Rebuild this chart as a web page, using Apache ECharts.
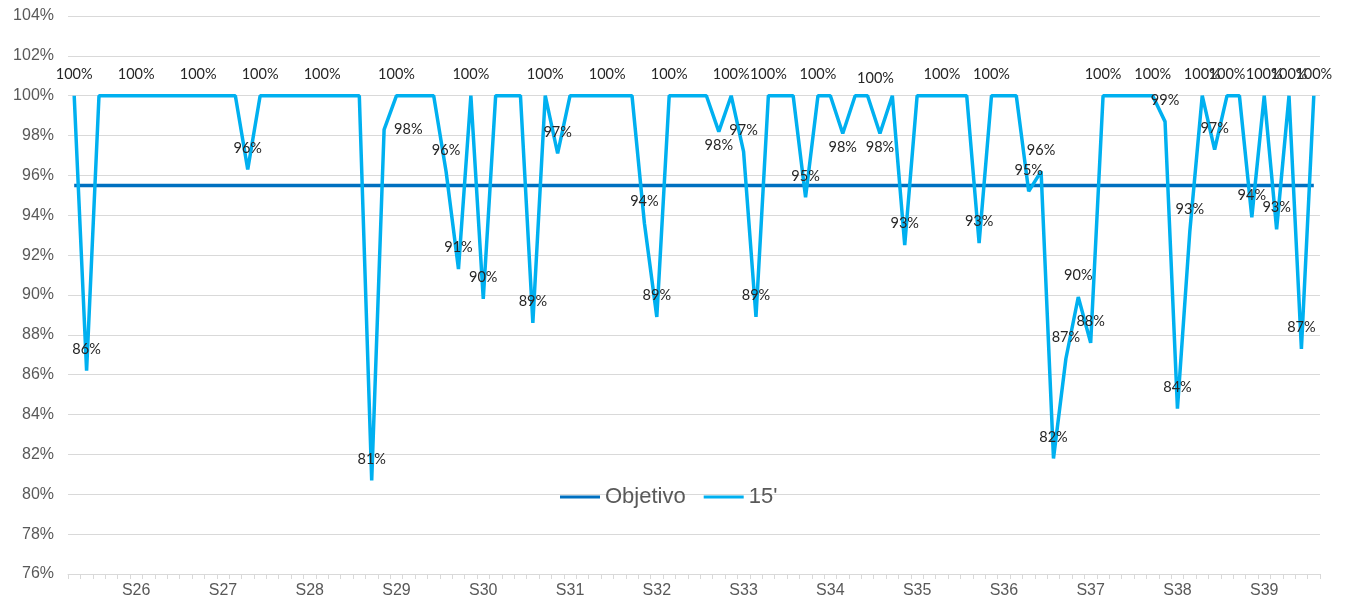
<!DOCTYPE html>
<html>
<head>
<meta charset="utf-8">
<script src="https://cdn.jsdelivr.net/npm/echarts@6/dist/echarts.min.js"></script>
<style>
html,body{margin:0;padding:0;background:#fff;}
#chart{width:1353px;height:601px;}
</style>
</head>
<body>
<div id="chart"></div>
<script>
// Weeks on the x axis and how many daily points fall in each
const weeks = ['S25','S26','S27','S28','S29','S30','S31','S32','S33','S34','S35','S36','S37','S38','S39','S40'];
const daysInWeek = [2,7,7,7,7,7,7,7,7,7,7,7,7,7,7,1];

// Daily % of service within 15' (one value per day)
const onTime15 = [
  100, 86.2,
  100,100,100,100,100,100,100,
  100,100,100,100,100,96.3,100,
  100,100,100,100,100,100,100,
  100,80.7,98.3,100,100,100,100,
  96.2,91.3,100,89.8,100,100,100,
  88.6,100,97.1,100,100,100,100,
  100,100,93.6,88.9,100,100,100,
  100,98.2,100,97.2,88.9,100,100,
  100,94.9,100,100,98.1,100,100,
  98.1,100,92.5,100,100,100,100,
  100,92.6,100,100,100,95.2,96.2,
  81.8,86.8,89.9,87.6,100,100,100,
  100,100,98.7,84.3,93.2,100,97.3,
  100,100,93.9,100,93.3,100,87.3,
  100
];
const objetivo = 95.5;

// Which points carry a data label
const labelTop = [0,1,5,10,14,15,20,24,26,30,31,32,33,37,38,39,43,46,47,48,53,54,55,56,59,60,64,67,70,73,74,77,78,79,80,81,82,83,87,88,89,90,91,92,93,95,96,97,98,99,100];
const labelBottom = [52,62,65];
const labelRight = [25];

const categories = [];
const labelIdx = {};
weeks.forEach((w, wi) => {
  const n = daysInWeek[wi];
  for (let d = 0; d < n; d++) {
    if (n === 7 && d === 3) labelIdx[categories.length] = true;
    categories.push(w + '-' + (d + 1));
  }
});

const pointData = onTime15.map((v, i) => {
  const item = { value: v };
  if (i === 64) {
    item.label = { show: true, position: [8, -17], align: 'center', verticalAlign: 'middle' };
  } else if (labelTop.includes(i)) {
    item.label = { show: true, position: 'top', distance: 14 };
  } else if (labelBottom.includes(i)) {
    item.label = { show: true, position: 'bottom', distance: 6 };
  } else if (labelRight.includes(i)) {
    item.label = { show: true, position: 'right', distance: 10 };
  }
  return item;
});

const chart = echarts.init(document.getElementById('chart'));
chart.setOption({
  animation: false,
  backgroundColor: '#ffffff',
  grid: { left: 68, right: 33, top: 16, bottom: 27, outerBoundsMode: 'none' },
  legend: {
    left: 555, top: 481,
    itemWidth: 40, itemHeight: 3, itemGap: 18,
    icon: 'rect',
    textStyle: { fontFamily: 'Liberation Sans', fontSize: 22, color: '#595959' },
    data: ['Objetivo', "15'"]
  },
  xAxis: {
    type: 'category',
    data: categories,
    boundaryGap: true,
    axisLine: { show: true, lineStyle: { color: '#D9D9D9', width: 1 } },
    axisTick: { show: true, interval: 0, length: 5, lineStyle: { color: '#D9D9D9' } },
    axisLabel: {
      interval: (index) => !!labelIdx[index],
      formatter: (v) => v.split('-')[0],
      fontFamily: 'Liberation Sans', fontSize: 16, color: '#595959', margin: 9
    },
    splitLine: { show: false }
  },
  yAxis: {
    type: 'value',
    min: 76, max: 104, interval: 2,
    axisLine: { show: false },
    axisTick: { show: false },
    axisLabel: { formatter: '{value}%', fontFamily: 'Liberation Sans', fontSize: 16, color: '#595959', margin: 14 },
    splitLine: { lineStyle: { color: '#D9D9D9', width: 1 } }
  },
  series: [
    {
      name: 'Objetivo',
      type: 'line',
      data: categories.map(() => objetivo),
      showSymbol: false,
      symbol: 'none',
      lineStyle: { color: '#0070C0', width: 3.5 },
      itemStyle: { color: '#0070C0' },
      z: 2
    },
    {
      name: "15'",
      type: 'line',
      data: pointData,
      showSymbol: true,
      symbol: 'circle',
      symbolSize: 0,
      lineStyle: { color: '#00B0F0', width: 3.5 },
      itemStyle: { color: '#00B0F0' },
      label: {
        show: false,
        formatter: (p) => Math.round(p.value) + '%',
        fontFamily: 'Lato', fontSize: 14.5, color: '#262626'
      },
      labelLayout: { hideOverlap: false },
      z: 3
    }
  ]
});
</script>
</body>
</html>
